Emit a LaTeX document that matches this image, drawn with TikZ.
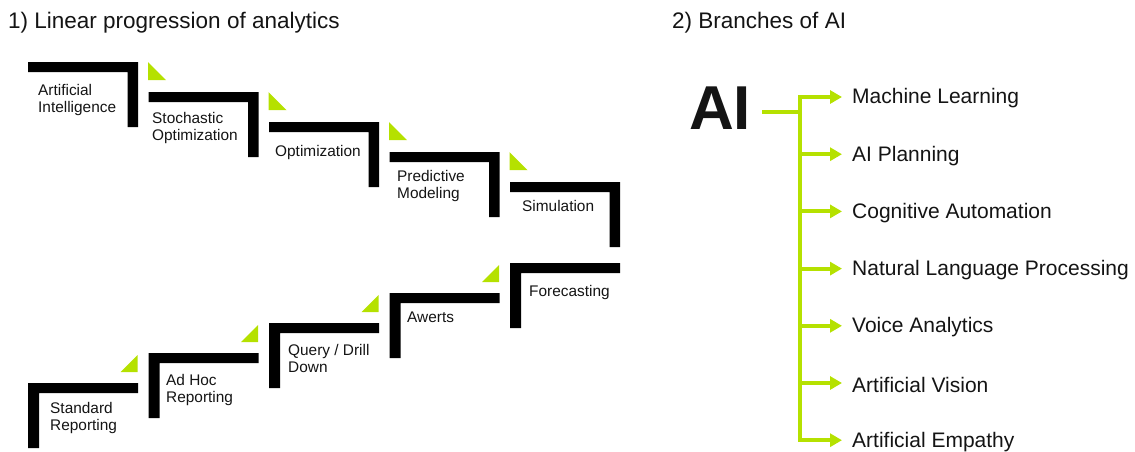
\documentclass[tikz,border=0pt]{standalone}
\usepackage{fontspec}
\setmainfont{Liberation Sans}
\usetikzlibrary{arrows.meta}
\definecolor{aigreen}{RGB}{181,225,0}
\definecolor{ink}{RGB}{20,20,20}
\begin{document}
\begin{tikzpicture}[x=1pt,y=-1pt,
  stepbar/.style={fill=black,draw=none},
  tri/.style={fill=aigreen,draw=none},
  steplabel/.style={anchor=west,inner sep=0pt,align=left,text=ink,font=\fontsize{15.4}{17}\selectfont},
  title/.style={anchor=base west,inner sep=0pt,text=ink,font=\fontsize{22.5}{26}\selectfont},
  branchlabel/.style={anchor=west,inner sep=0pt,text=ink,font=\fontsize{21}{24}\selectfont},
  branch/.style={draw=aigreen,line width=4pt},
  arr/.style={branch,-{Triangle[length=12pt,width=13pt]},shorten >=10pt}
]
\useasboundingbox (0,0) rectangle (1135,451);

% titles
\node[title] (t1) at (8,28) {1) Linear progression of analytics};
\node[title] (t2) at (672,28) {2) Branches of AI};

% upper row (descending steps)
\foreach \i in {0,...,4}{
  \pgfmathsetmacro{\L}{28+120.5*\i}
  \pgfmathsetmacro{\T}{62+30*\i}
  \fill[stepbar] (\L,\T) -- ++(110,0) -- ++(0,65) -- ++(-10.5,0) -- ++(0,-55) -- ++(-99.5,0) -- cycle;
}
\foreach \i in {0,...,3}{
  \pgfmathsetmacro{\L}{148+120.5*\i}
  \pgfmathsetmacro{\T}{62+30*\i}
  \fill[tri] (\L,\T) -- (\L,\T+18) -- (\L+18,\T+18) -- cycle;
}
% lower row (ascending steps)
\foreach \j in {0,...,4}{
  \pgfmathsetmacro{\L}{28+120.5*\j}
  \pgfmathsetmacro{\T}{383-30*\j}
  \fill[stepbar] (\L,\T) -- ++(110,0) -- ++(0,10) -- ++(-99,0) -- ++(0,55) -- ++(-11,0) -- cycle;
}
\foreach \j in {0,...,3}{
  \pgfmathsetmacro{\R}{137.5+120.5*\j}
  \pgfmathsetmacro{\T}{355-30*\j}
  \fill[tri] (\R,\T) -- (\R,\T+17) -- (\R-17,\T+17) -- cycle;
}

% step labels
\node[steplabel] (s1) at (38,100) {Artificial\\Intelligence};
\node[steplabel] (s2) at (152,128) {Stochastic\\Optimization};
\node[steplabel] (s3) at (275,153) {Optimization};
\node[steplabel] (s4) at (397,186) {Predictive\\Modeling};
\node[steplabel] (s5) at (522,206) {Simulation};
\node[steplabel] (r1) at (50,418) {Standard\\Reporting};
\node[steplabel] (r2) at (166,390) {Ad Hoc\\Reporting};
\node[steplabel] (r3) at (288,358) {Query / Drill\\Down};
\node[steplabel] (r4) at (407,317) {Awerts};
\node[steplabel] (r5) at (529,293) {Forecasting};

% AI branches
\node[anchor=center,inner sep=0pt,text=ink,font=\fontsize{62}{62}\bfseries\selectfont] (ai) at (720,108) {AI};
\coordinate (hub) at (762,111.5);
\coordinate (joint) at (800,111.5);
\coordinate (ttop) at (800,97);
\coordinate (tbot) at (800,440);
\draw[branch] (hub) -- (joint);
\draw[branch] ([yshift=-2pt]ttop) -- ([yshift=2pt]tbot);

\foreach \k/\name/\txt in {0/b1/Machine Learning,1/b2/AI Planning,2/b3/Cognitive Automation,3/b4/Natural Language Processing,4/b5/Voice Analytics,5/b6/Artificial Vision,6/b7/Artificial Empathy}{
  \pgfmathsetmacro{\Y}{97+57.2*\k}
  \node[branchlabel] (\name) at (852,\Y+1.5) {\txt};
  \coordinate (c\name) at (798,\Y);
  \draw[arr] (c\name) -- (\name.west |- c\name);
}
\end{tikzpicture}
\end{document}
